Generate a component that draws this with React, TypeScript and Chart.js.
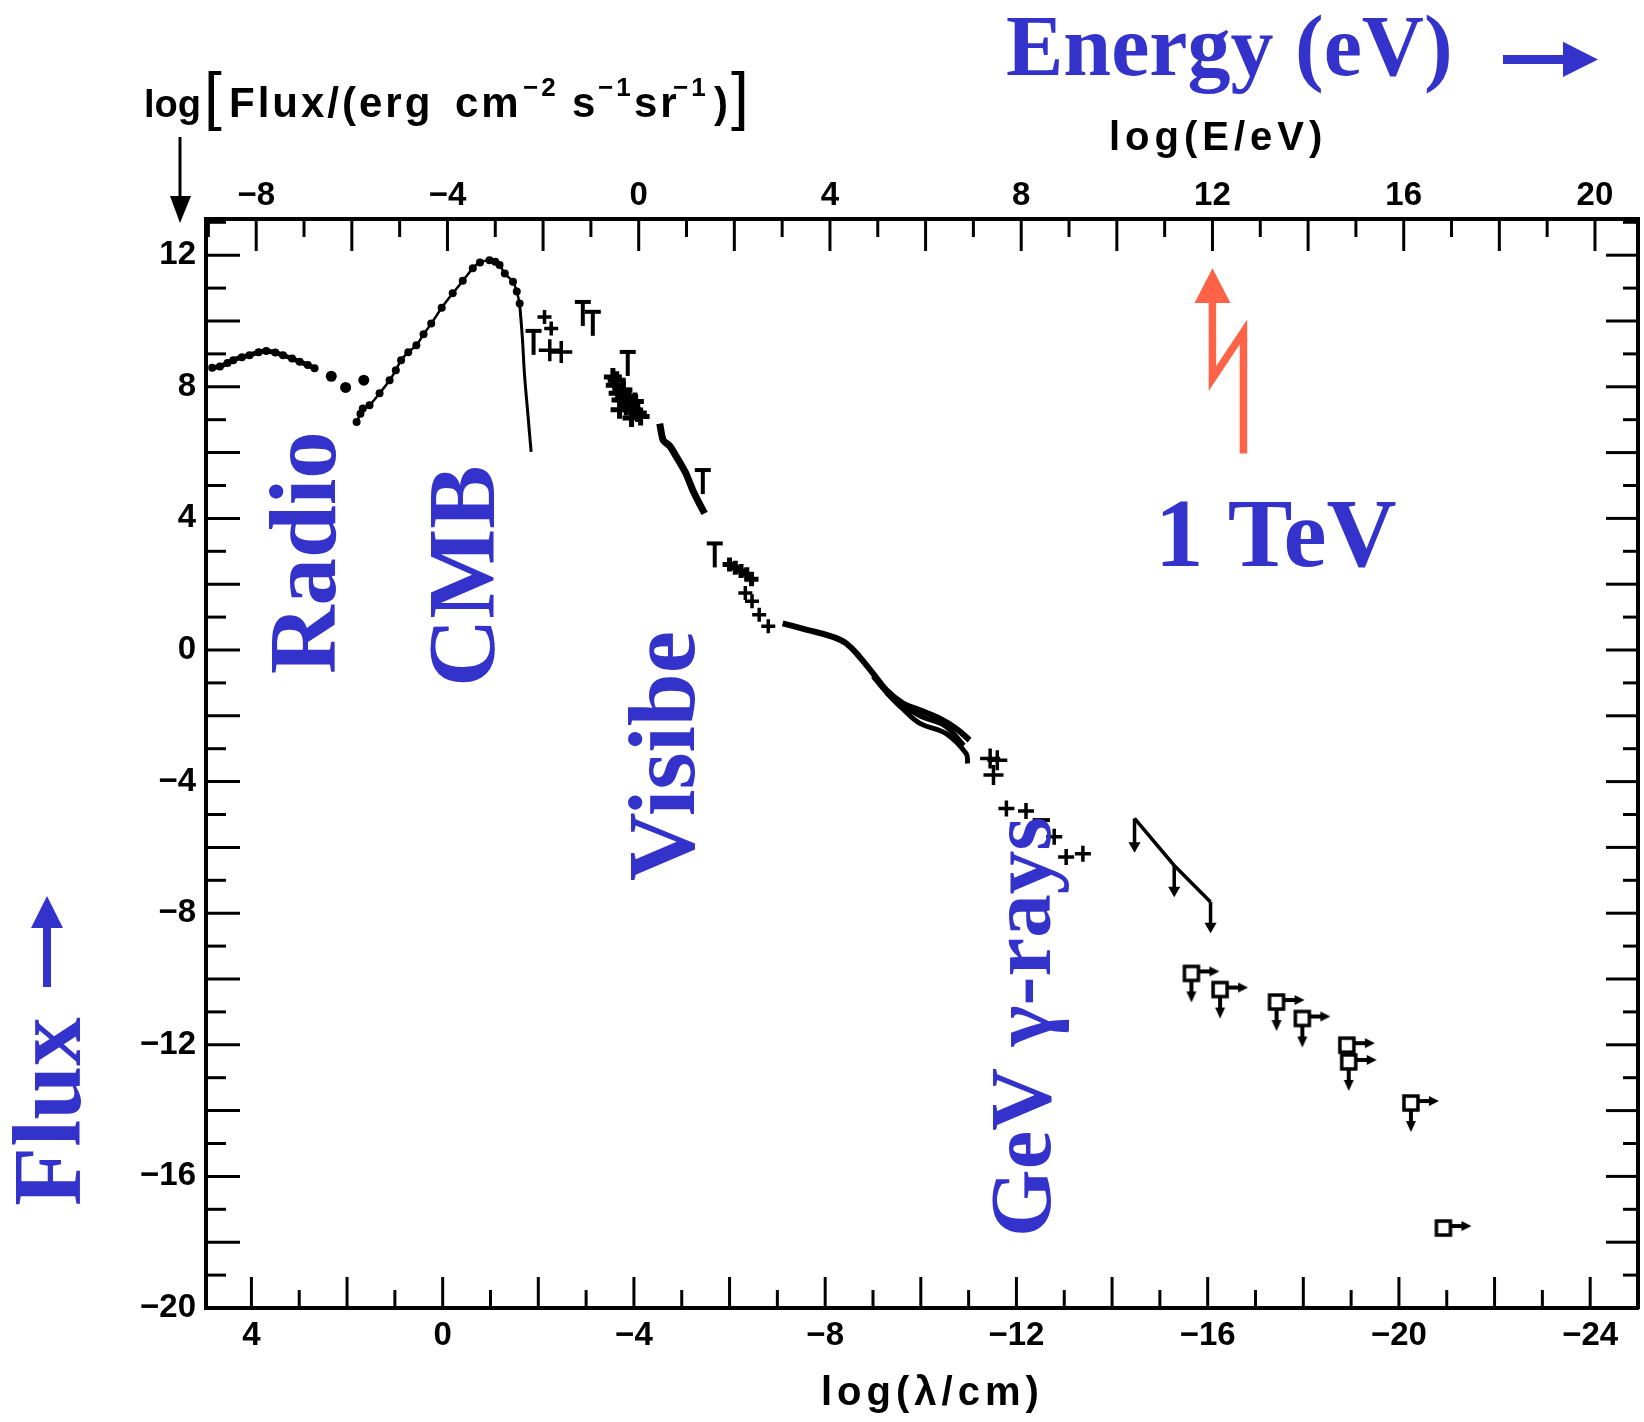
import { useEffect, useRef } from 'react';
import { Chart, registerables } from 'chart.js';

Chart.register(...registerables);

type P = [number, number];

// ---- data: [log(lambda/cm), log(Flux)] ----
const radioCurve: P[] = [[4.82, 8.58], [4.66, 8.62], [4.5, 8.72], [4.38, 8.81], [4.2, 8.9], [4.04, 8.96], [3.85, 9.05], [3.69, 9.09], [3.5, 9.04], [3.34, 8.96], [3.15, 8.86], [2.99, 8.76], [2.82, 8.66], [2.68, 8.56]];
const radioDots: P[] = [[2.33, 8.32], [2.03, 7.98], [1.65, 8.2]];
const cmbRise: P[] = [[1.8, 6.93], [1.72, 7.18], [1.67, 7.34], [1.53, 7.44], [1.32, 7.8], [1.11, 8.2], [0.98, 8.5], [0.87, 8.81], [0.72, 9.05], [0.55, 9.26], [0.4, 9.6], [0.24, 9.92], [0.02, 10.4], [-0.21, 10.84], [-0.42, 11.22], [-0.63, 11.6], [-0.78, 11.78], [-0.98, 11.85], [-1.1, 11.8], [-1.19, 11.7], [-1.3, 11.44], [-1.47, 11.19], [-1.55, 10.9], [-1.61, 10.53]];
const cmbFall: P[] = [[-1.61, 10.53], [-1.67, 9.42], [-1.71, 8.4], [-1.78, 7.2], [-1.85, 6.02]];
const irSmallCrosses: P[] = [[-2.13, 10.12], [-2.27, 9.77]];
const irErrorCrosses: P[] = [[-2.24, 9.11], [-2.48, 9.06]];
const upperLimits: P[] = [[-1.9, 9.7], [-2.93, 10.58], [-3.14, 10.28], [-3.87, 9.06], [-5.44, 5.47], [-5.69, 3.24]];
const opticalBlob: P[] = [[-3.56, 8.3], [-3.6, 8.05], [-3.66, 7.8], [-3.72, 7.6], [-3.78, 7.9], [-3.84, 7.4], [-3.9, 7.7], [-3.96, 7.3], [-4.02, 7.55], [-4.08, 7.2], [-4.14, 7.1], [-3.7, 7.3], [-3.95, 7.05], [-3.64, 8.2], [-3.82, 7.7]];
const uvStreak: P[] = [[-4.54, 6.88], [-4.61, 6.38], [-4.75, 6.2], [-4.89, 5.87], [-5.0, 5.6], [-5.09, 5.36], [-5.23, 4.86], [-5.37, 4.45], [-5.48, 4.15]];
const uvBlob: P[] = [[-6.0, 2.6], [-6.12, 2.5], [-6.24, 2.4], [-6.36, 2.3], [-6.46, 2.15]];
const uvCrosses: P[] = [[-6.33, 1.73], [-6.47, 1.48], [-6.62, 1.07], [-6.81, 0.72]];
const xrayUpper: P[] = [[-7.11, 0.81], [-7.6, 0.62], [-8.16, 0.4], [-8.44, 0.2], [-8.72, -0.21], [-9.0, -0.71], [-9.28, -1.22], [-9.63, -1.63], [-9.98, -1.83], [-10.39, -2.08], [-10.74, -2.39], [-11.02, -2.74]];
const xrayMid: P[] = [[-9.0, -0.8], [-9.4, -1.45], [-9.98, -2.0], [-10.5, -2.3], [-10.9, -2.9]];
const xrayLower: P[] = [[-9.28, -1.3], [-9.63, -1.8], [-9.98, -2.23], [-10.53, -2.54], [-10.95, -3.15], [-10.98, -3.45]];
const xrayCrosses: P[] = [[-11.45, -3.3], [-11.6, -3.35], [-11.52, -3.8]];
const gammaCrosses: P[] = [[-11.79, -4.82], [-12.2, -4.89], [-12.79, -5.68], [-13.04, -6.29], [-13.39, -6.19]];
const gammaDash: P[] = [[-12.34, -5.17], [-12.7, -5.17]];
const gammaLine: P[] = [[-14.47, -5.12], [-15.3, -6.55], [-16.06, -7.66]];
const gammaStemA: P[] = [[-14.47, -5.12], [-14.47, -5.9]];
const gammaStemB: P[] = [[-15.3, -6.55], [-15.3, -7.25]];
const gammaStemC: P[] = [[-16.06, -7.66], [-16.06, -8.35]];
const gammaTips: P[] = [[-14.47, -5.95], [-15.3, -7.3], [-16.06, -8.4]];
const squareLimitsDown: P[] = [[-15.66, -9.83], [-16.26, -10.32], [-17.44, -10.7], [-17.98, -11.2], [-18.95, -12.52], [-20.25, -13.77]];
const squareLimits: P[] = [[-18.91, -12.01], [-20.93, -17.57]];

// axis ranges and tick labelling
const lambdaRange: P = [-25, 4.95];
const energyRange: P = [-9.05, 20.9];
const fluxRange: P = [-20, 13.1];
const labelStep = 4;

const BLUE = '#3333cc';
const RED = '#ff6347';

const toXY = (a: P[]) => a.map(([x, y]) => ({ x, y }));

const tickLabel = (v: number) => {
  const r = Math.round(v);
  return r < 0 ? '\u2212' + Math.abs(r) : String(r);
};

const labelTicks = (s: any) => {
  const out: { value: number }[] = [];
  for (let v = Math.ceil(s.min / labelStep) * labelStep; v <= s.max + 1e-9; v += labelStep) out.push({ value: v });
  s.ticks = out;
};

function makeT(): HTMLCanvasElement {
  const c = document.createElement('canvas');
  c.width = 30; c.height = 60;
  const g = c.getContext('2d')!;
  g.strokeStyle = '#000'; g.lineWidth = 4;
  g.beginPath();
  g.moveTo(7, 30); g.lineTo(23, 30);
  g.moveTo(15, 30); g.lineTo(15, 54);
  g.stroke();
  return c;
}

function makeSquare(down: boolean): HTMLCanvasElement {
  const c = document.createElement('canvas');
  c.width = 90; c.height = 90;
  const g = c.getContext('2d')!;
  const cx = 45, cy = 45;
  g.strokeStyle = '#000'; g.fillStyle = '#000'; g.lineWidth = 3.5;
  g.strokeRect(cx - 7, cy - 7, 14, 14);
  g.lineWidth = 4;
  g.beginPath(); g.moveTo(cx + 7, cy - 2); g.lineTo(cx + 20, cy - 2); g.stroke();
  g.beginPath(); g.moveTo(cx + 28, cy - 2); g.lineTo(cx + 18, cy - 7); g.lineTo(cx + 18, cy + 3); g.closePath(); g.fill();
  if (down) {
    g.beginPath(); g.moveTo(cx, cy + 7); g.lineTo(cx, cy + 20); g.stroke();
    g.beginPath(); g.moveTo(cx, cy + 29); g.lineTo(cx - 5, cy + 18); g.lineTo(cx + 5, cy + 18); g.closePath(); g.fill();
  }
  return c;
}

const decor = {
  id: 'decor',
  afterDraw(chart: any) {
    const ctx: CanvasRenderingContext2D = chart.ctx;
    const { x, xTop, y } = chart.scales;
    const a = chart.chartArea;
    ctx.save();
    ctx.strokeStyle = '#000';
    ctx.lineWidth = 3;
    const seg = (x1: number, y1: number, x2: number, y2: number) => {
      ctx.beginPath(); ctx.moveTo(x1, y1); ctx.lineTo(x2, y2); ctx.stroke();
    };
    for (let v = Math.ceil(lambdaRange[0]); v <= Math.floor(lambdaRange[1]); v++) {
      const px = x.getPixelForValue(v);
      if (px < a.left + 2 || px > a.right - 2) continue;
      seg(px, a.bottom, px, a.bottom - (v % 2 === 0 ? 31 : 18));
    }
    for (let v = Math.ceil(energyRange[0]); v <= Math.floor(energyRange[1]); v++) {
      const px = xTop.getPixelForValue(v);
      if (px < a.left + 2 || px > a.right - 2) continue;
      seg(px, a.top, px, a.top + (v % 2 === 0 ? 32 : 18));
    }
    for (let v = Math.ceil(fluxRange[0]); v <= Math.floor(fluxRange[1]); v++) {
      const py = y.getPixelForValue(v);
      if (py > a.bottom - 2 || py < a.top + 2) continue;
      const even = v % 2 === 0;
      seg(a.left, py, a.left + (even ? 34 : 20), py);
      seg(a.right, py, a.right - (even ? 32 : 15), py);
    }

    // 1 TeV red arrow
    const xr = xTop.getPixelForValue(12);
    const yTip = y.getPixelForValue(11.6);
    const yBase = y.getPixelForValue(10.55);
    const yKnee = y.getPixelForValue(8.25);
    const yTop2 = y.getPixelForValue(9.67);
    const yEnd = y.getPixelForValue(5.97);
    ctx.fillStyle = RED; ctx.strokeStyle = RED;
    ctx.beginPath(); ctx.moveTo(xr, yTip); ctx.lineTo(xr - 18, yBase); ctx.lineTo(xr + 18, yBase); ctx.closePath(); ctx.fill();
    ctx.lineWidth = 7.5; ctx.lineJoin = 'miter';
    ctx.beginPath(); ctx.moveTo(xr, yBase); ctx.lineTo(xr, yKnee); ctx.lineTo(xr + 31, yTop2); ctx.lineTo(xr + 31, yEnd); ctx.stroke();

    // black axis titles
    ctx.fillStyle = '#000';
    ctx.textBaseline = 'alphabetic';
    ctx.textAlign = 'left';
    const sans = (s: number) => `bold ${s}px "Liberation Sans", Arial, sans-serif`;
    const ls = (v: number) => { (ctx as any).letterSpacing = `${v}px`; };
    ls(0);
    ctx.font = sans(38);
    ctx.fillText('log', 144, 117);
    ls(3);
    ctx.font = sans(42);
    ctx.fillText('Flux/(erg', 229, 117);
    ctx.fillText('cm', 455, 117);
    ctx.fillText('s', 572, 117);
    ctx.fillText('sr', 634, 117);
    ctx.fillText(')', 714, 117);
    ctx.font = sans(26);
    ctx.fillText('\u22122', 523, 96);
    ctx.fillText('\u22121', 598, 96);
    ctx.fillText('\u22121', 673, 96);
    ls(0);
    ctx.font = `${64}px "Liberation Sans", Arial, sans-serif`;
    ctx.fillText('[', 204, 118);
    ctx.fillText(']', 731, 118);
    ls(5);
    ctx.font = sans(40);
    ctx.fillText('log(E/eV)', 1109, 150);
    ctx.fillText('log(\u03bb/cm)', 821, 1405);
    ls(0);

    // black down arrow under the flux title
    ctx.strokeStyle = '#000'; ctx.lineWidth = 3;
    seg(180, 137, 180, 205);
    ctx.beginPath(); ctx.moveTo(180, 223); ctx.lineTo(170, 196); ctx.lineTo(191, 196); ctx.closePath(); ctx.fill();

    // blue labels
    ctx.fillStyle = BLUE;
    const serif = (s: number) => `bold ${s}px "Liberation Serif", "Times New Roman", serif`;
    ctx.font = serif(86);
    ctx.fillText('Energy (eV)', 1006, 75);
    ctx.font = serif(97);
    ctx.fillText('1 TeV', 1155, 566);
    const vert = (t: string, bx: number, sy: number, size: number) => {
      ctx.save();
      ctx.translate(bx, sy);
      ctx.rotate(-Math.PI / 2);
      ctx.font = serif(size);
      ctx.fillText(t, 0, 0);
      ctx.restore();
    };
    vert('Radio', 335, 674, 95);
    vert('CMB', 494, 687, 95);
    vert('Visibe', 694, 881, 95);
    vert('GeV \u03b3-rays', 1050, 1237, 87);
    vert('Flux', 80, 1206, 97);

    // blue arrows
    ctx.fillRect(1503, 55, 64, 9);
    ctx.beginPath(); ctx.moveTo(1598, 59.5); ctx.lineTo(1563, 41.7); ctx.lineTo(1563, 77); ctx.closePath(); ctx.fill();
    ctx.fillRect(43, 925, 8, 62);
    ctx.beginPath(); ctx.moveTo(47, 896); ctx.lineTo(31, 928); ctx.lineTo(63, 928); ctx.closePath(); ctx.fill();
    ctx.restore();
  },
};

export default function App() {
  const ref = useRef<HTMLCanvasElement | null>(null);
  useEffect(() => {
    document.body.style.margin = '0';
    document.body.style.overflow = 'hidden';
    const canvas = ref.current!;
    const T = makeT();
    const sqD = makeSquare(true);
    const sq = makeSquare(false);
    const black = '#000';
    const line = (data: P[], w: number, tension = 0, pr = 0) => ({
      data: toXY(data), showLine: true, borderColor: black, borderWidth: w, tension,
      pointRadius: pr, pointBackgroundColor: black, pointBorderWidth: 0, pointHoverRadius: pr,
    });
    const marks = (data: P[], style: any, r: number, w: number, rot = 0) => ({
      data: toXY(data), showLine: false, pointStyle: style, pointRadius: r, pointBorderWidth: w,
      pointBorderColor: black, pointBackgroundColor: black, pointRotation: rot, borderColor: black, backgroundColor: black,
    });
    const fixedW = (w: number) => (s: any) => { s.width = w; s.paddingTop = 0; s.paddingBottom = 0; };
    const fixedH = (h: number) => (s: any) => { s.height = h; s.paddingLeft = 0; s.paddingRight = 0; };
    const tickFont = { family: '"Liberation Sans", Arial, sans-serif', size: 33, weight: 'bold' };
    const axisCommon = {
      type: 'linear',
      grid: { display: false, drawTicks: false },
      border: { display: true, color: black, width: 4 },
      afterBuildTicks: labelTicks,
    };
    const tickCommon = { autoSkip: false, maxRotation: 0, color: black, font: tickFont, callback: (v: any) => tickLabel(Number(v)) };
    const chart = new Chart(canvas, {
      type: 'scatter',
      data: {
        datasets: [
          line(radioCurve, 5, 0.3, 4),
          marks(radioDots, 'circle', 5.5, 0),
          line(cmbRise, 2.5, 0.2, 4),
          line(cmbFall, 3, 0.4, 0),
          marks(irSmallCrosses, 'cross', 7, 3.5),
          marks(irErrorCrosses, 'cross', 11, 3.5),
          marks(upperLimits, T, 5, 0),
          marks(opticalBlob, 'cross', 9, 5),
          line(uvStreak, 7, 0.2, 0),
          marks(uvBlob, 'cross', 7, 5),
          marks(uvCrosses, 'cross', 7, 3.5),
          line(xrayUpper, 6, 0.4, 0),
          line(xrayMid, 5, 0.4, 0),
          line(xrayLower, 5, 0.4, 0),
          marks(xrayCrosses, 'cross', 10, 3.5),
          marks(gammaCrosses, 'cross', 8, 3.5),
          line(gammaDash, 4),
          line(gammaLine, 3.5),
          line(gammaStemA, 3.5),
          line(gammaStemB, 3.5),
          line(gammaStemC, 3.5),
          marks(gammaTips, 'triangle', 7, 0, 180),
          marks(squareLimitsDown, sqD, 5, 0),
          marks(squareLimits, sq, 5, 0),
        ] as any,
      },
      options: {
        responsive: false,
        animation: false,
        devicePixelRatio: 1,
        layout: { padding: 0, autoPadding: false },
        plugins: { legend: { display: false }, tooltip: { enabled: false } },
        scales: {
          x: {
            ...axisCommon, position: 'bottom', reverse: true,
            min: lambdaRange[0], max: lambdaRange[1],
            ticks: { ...tickCommon, padding: 8 },
            afterFit: fixedH(114),
          },
          xTop: {
            ...axisCommon, position: 'top',
            min: energyRange[0], max: energyRange[1],
            ticks: { ...tickCommon, padding: 3 },
            afterFit: fixedH(219),
          },
          y: {
            ...axisCommon, position: 'left',
            min: fluxRange[0], max: fluxRange[1],
            ticks: { ...tickCommon, padding: 10 },
            afterFit: fixedW(206),
          },
          yRight: {
            ...axisCommon, position: 'right',
            min: fluxRange[0], max: fluxRange[1],
            ticks: { display: false },
            afterFit: fixedW(6),
          },
        },
      } as any,
      plugins: [decor],
    });
    return () => chart.destroy();
  }, []);
  return (
    <div style={{ position: 'absolute', left: 0, top: 0, width: 1644, height: 1422 }}>
      <canvas ref={ref} width={1644} height={1422} style={{ display: 'block' }} />
    </div>
  );
}
